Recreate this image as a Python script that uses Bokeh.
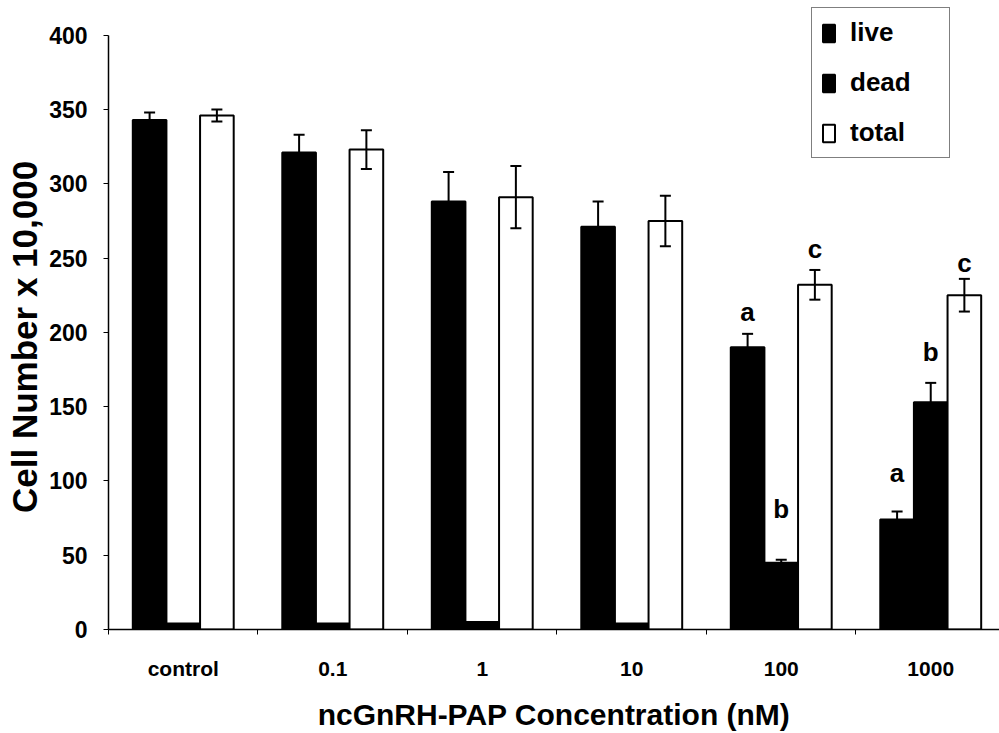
from bokeh.plotting import figure
from bokeh.models import ColumnDataSource, Range1d, FixedTicker, Whisker, TeeHead, Legend, LegendItem
from bokeh.core.properties import value
from bokeh.embed import file_html
from bokeh.resources import INLINE

# ---- data ----
categories = ["control", "0.1", "1", "10", "100", "1000"]
live = [343, 321, 288, 271, 190, 74]
live_err = [5, 12, 20, 17, 9, 5.5]
dead = [4, 4, 5, 4, 45, 153]
dead_err = [0, 0, 0, 0, 2, 13]
total = [346, 323, 291, 275, 232, 225]
total_err = [4, 13, 21, 17, 10, 11]
y_ticks = [0, 50, 100, 150, 200, 250, 300, 350, 400]

# significance letters
sig_cat = [4, 4, 4, 5, 5, 5]
sig_series = ["live", "dead", "total", "live", "dead", "total"]
sig_letter = ["a", "b", "c", "a", "b", "c"]
sig_gap = [15, 34, 14, 26, 21, 11]

# ---- layout helpers ----
FONT = "Liberation Sans"
offsets = {"live": -0.225, "dead": 0.0, "total": 0.225}
bar_w = 0.225
centers = [i + 0.5 for i in range(len(categories))]
vals = {"live": live, "dead": dead, "total": total}
errs = {"live": live_err, "dead": dead_err, "total": total_err}

# frame extends a little above 400 so the legend box is not clipped; the axis stops at 400
p = figure(width=999, height=733, output_backend="svg", toolbar_location=None,
           x_range=Range1d(0, 5.96), y_range=Range1d(0, 420),
           min_border_left=108, min_border_right=0, min_border_top=5, min_border_bottom=103)
p.xgrid.visible = False
p.ygrid.visible = False
p.outline_line_color = None
p.background_fill_color = "white"
p.border_fill_color = "white"

renderers = {}
for name in ["live", "dead", "total"]:
    xs = [c + offsets[name] for c in centers]
    src = ColumnDataSource(dict(x=xs, top=vals[name]))
    fill = "white" if name == "total" else "black"
    r = p.vbar(x="x", top="top", width=bar_w, bottom=0, source=src,
               fill_color=fill, line_color="black", line_width=2)
    renderers[name] = r

    keep = [i for i in range(len(categories)) if errs[name][i] > 0]
    wsrc = ColumnDataSource(dict(
        x=[xs[i] for i in keep],
        upper=[vals[name][i] + errs[name][i] for i in keep],
        lower=[(vals[name][i] - errs[name][i]) if name == "total" else vals[name][i] for i in keep],
    ))
    w = Whisker(base="x", upper="upper", lower="lower", source=wsrc, dimension="height",
                line_color="black", line_width=2, level="overlay",
                upper_head=TeeHead(size=11, line_width=2, line_color="black"),
                lower_head=TeeHead(size=11, line_width=2, line_color="black") if name == "total" else None)
    p.add_layout(w)

# letters
lx = [centers[c] + offsets[s] for c, s in zip(sig_cat, sig_series)]
ly = [vals[s][c] + errs[s][c] + g for c, s, g in zip(sig_cat, sig_series, sig_gap)]
p.text(x=lx, y=ly, text=sig_letter, text_font=value(FONT), text_font_style="bold",
       text_font_size="26px", text_align="center", text_baseline="middle", text_color="black")

# axes
p.yaxis.ticker = FixedTicker(ticks=y_ticks)
p.yaxis.bounds = (0, 400)
# trailing no-break spaces keep the title centred on the 0-400 axis rather than the taller frame
p.yaxis.axis_label = "Cell Number x 10,000" + "\u00a0" * 4
p.yaxis.axis_label_text_font = FONT
p.yaxis.axis_label_text_font_style = "bold"
p.yaxis.axis_label_text_font_size = "35px"
p.yaxis.axis_label_text_color = "black"
p.yaxis.axis_label_standoff = 2
p.yaxis.major_label_text_font = FONT
p.yaxis.major_label_text_font_style = "bold"
p.yaxis.major_label_text_font_size = "23px"
p.yaxis.major_label_text_color = "black"
p.yaxis.major_label_standoff = 16
p.yaxis.major_tick_out = 5
p.yaxis.major_tick_in = 0
p.yaxis.minor_tick_line_color = None
p.yaxis.axis_line_color = "black"
p.yaxis.axis_line_width = 1.5

p.xaxis.ticker = FixedTicker(ticks=centers, minor_ticks=list(range(len(categories) + 1)))
p.xaxis.major_label_overrides = {c: lab for c, lab in zip(centers, categories)}
p.xaxis.major_tick_line_color = None
p.xaxis.minor_tick_out = 5
p.xaxis.minor_tick_in = 0
p.xaxis.minor_tick_line_color = "black"
p.xaxis.axis_line_color = "black"
p.xaxis.axis_line_width = 1.5
p.xaxis.major_label_text_font = FONT
p.xaxis.major_label_text_font_style = "bold"
p.xaxis.major_label_text_font_size = "21px"
p.xaxis.major_label_text_color = "black"
p.xaxis.major_label_standoff = 21
p.xaxis.axis_label = "ncGnRH-PAP Concentration (nM)"
p.xaxis.axis_label_text_font = FONT
p.xaxis.axis_label_text_font_style = "bold"
p.xaxis.axis_label_text_font_size = "30px"
p.xaxis.axis_label_text_color = "black"
p.xaxis.axis_label_standoff = 15

legend = Legend(items=[LegendItem(label="live", renderers=[renderers["live"]]),
                       LegendItem(label="dead", renderers=[renderers["dead"]]),
                       LegendItem(label="total", renderers=[renderers["total"]])],
                location=(703, 471), orientation="vertical",
                label_text_font=FONT, label_text_font_style="bold", label_text_font_size="26px",
                label_text_color="black",
                glyph_width=15, glyph_height=22, label_height=30, label_width=90,
                label_standoff=14, spacing=19, padding=9, margin=0,
                border_line_color="black", border_line_width=1,
                background_fill_color="white", background_fill_alpha=1.0)
p.add_layout(legend)

open("out.html", "w").write(file_html(p, INLINE))
